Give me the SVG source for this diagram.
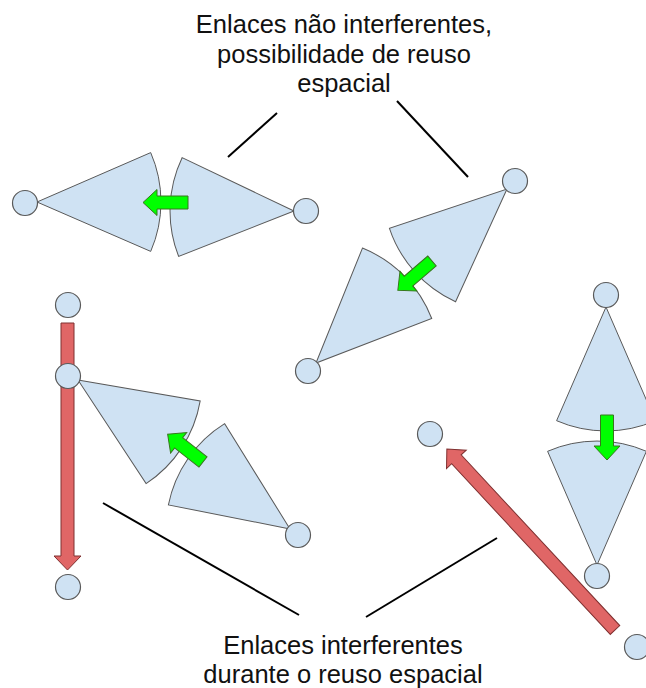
<svg xmlns="http://www.w3.org/2000/svg" xmlns:xlink="http://www.w3.org/1999/xlink" width="646" height="688" viewBox="0 0 646 688">
  <style>
    .beam { fill: #cfe2f3; stroke: #595959; stroke-width: 1; }
    .node { fill: #cfe2f3; stroke: #595959; stroke-width: 1.2; }
    .tx { fill: #00ff00; stroke: #38761d; stroke-width: 1; }
    .intf { fill: #e06666; stroke: #7f3030; stroke-width: 1; }
    .callout { stroke: #000; stroke-width: 2; fill: none; }
    .label { font-family: "Liberation Sans", Arial, sans-serif; font-size: 25.5px; fill: #111; text-anchor: middle; }
  </style>
  <defs>
    <!-- antenna beam: apex at origin, pointing along +x, radius 124, half-angle 23.5deg -->
    <path id="sector" d="M0,0 L113.7,-49.4 A124,124 0 0 1 113.7,49.4 Z"/>
    <!-- transmission arrow: tail at origin, pointing along +x -->
    <path id="txArrow" d="M0,-6.5 H31 V-13 L45,0 L31,13 V6.5 H0 Z"/>
    <!-- interference arrow: tail at origin, pointing along +x -->
    <path id="intfArrow" d="M0,-6.5 H233 V-13.5 L247,0 L233,13.5 V6.5 H0 Z"/>
  </defs>

  <!-- antenna beams -->
  <g id="beams">
    <use xlink:href="#sector" class="beam" transform="translate(37,202) rotate(0)"/>
    <use xlink:href="#sector" class="beam" transform="translate(294,211) rotate(182)"/>
    <use xlink:href="#sector" class="beam" transform="translate(507,189) rotate(138)"/>
    <use xlink:href="#sector" class="beam" transform="translate(316,363) rotate(-44.5)"/>
    <use xlink:href="#sector" class="beam" transform="translate(78,380) rotate(33.2)"/>
    <use xlink:href="#sector" class="beam" transform="translate(290,529) rotate(214.7)"/>
    <use xlink:href="#sector" class="beam" transform="translate(606,307) rotate(90)"/>
    <use xlink:href="#sector" class="beam" transform="translate(597,565) rotate(-90)"/>
  </g>

  <!-- links: transmissions (green) and interference (red) -->
  <g id="connectors">
    <use xlink:href="#txArrow" class="tx" transform="translate(188,202.5) rotate(180)"/>
    <use xlink:href="#txArrow" class="tx" transform="translate(432,261) rotate(139.4)"/>
    <use xlink:href="#txArrow" class="tx" transform="translate(203,462) rotate(218.2)"/>
    <use xlink:href="#txArrow" class="tx" transform="translate(607,415) rotate(90)"/>
    <use xlink:href="#intfArrow" class="intf" transform="translate(67.5,323) rotate(90)"/>
  </g>

  <!-- stations -->
  <g id="n1"><circle class="node" cx="25" cy="203" r="12.5"/></g>
  <g id="n2"><circle class="node" cx="306" cy="211" r="12.5"/></g>
  <g id="n3"><circle class="node" cx="515" cy="181" r="12.5"/></g>
  <g id="n4"><circle class="node" cx="308" cy="371" r="12.5"/></g>
  <g id="n5"><circle class="node" cx="68" cy="305" r="12.5"/></g>
  <g id="n6"><circle class="node" cx="68" cy="376" r="12.5"/></g>
  <g id="n7"><circle class="node" cx="68" cy="587" r="12.5"/></g>
  <g id="n8"><circle class="node" cx="298" cy="535" r="12.5"/></g>
  <g id="n9"><circle class="node" cx="606" cy="295" r="12.5"/></g>
  <g id="n10"><circle class="node" cx="597" cy="576" r="12.5"/></g>
  <g id="n11"><circle class="node" cx="430" cy="434" r="12.5"/></g>
  <g id="n12"><circle class="node" cx="637" cy="647" r="12.5"/></g>

  <g id="connectors-over">
    <use xlink:href="#intfArrow" class="intf" transform="translate(615,630) rotate(-132.9)"/>
  </g>

  <!-- callout lines -->
  <g id="callouts">
    <line class="callout" x1="277" y1="113" x2="228" y2="157"/>
    <line class="callout" x1="397" y1="101" x2="468" y2="177"/>
    <line class="callout" x1="103" y1="503" x2="299" y2="615"/>
    <line class="callout" x1="497" y1="538" x2="366" y2="617"/>
  </g>

  <!-- captions -->
  <g id="captions">
    <text class="label" x="344" y="33">Enlaces não interferentes,</text>
    <text class="label" x="344" y="62.5">possibilidade de reuso</text>
    <text class="label" x="344" y="92">espacial</text>
    <text class="label" x="343" y="653.5">Enlaces interferentes</text>
    <text class="label" x="343" y="682.5">durante o reuso espacial</text>
  </g>
</svg>
